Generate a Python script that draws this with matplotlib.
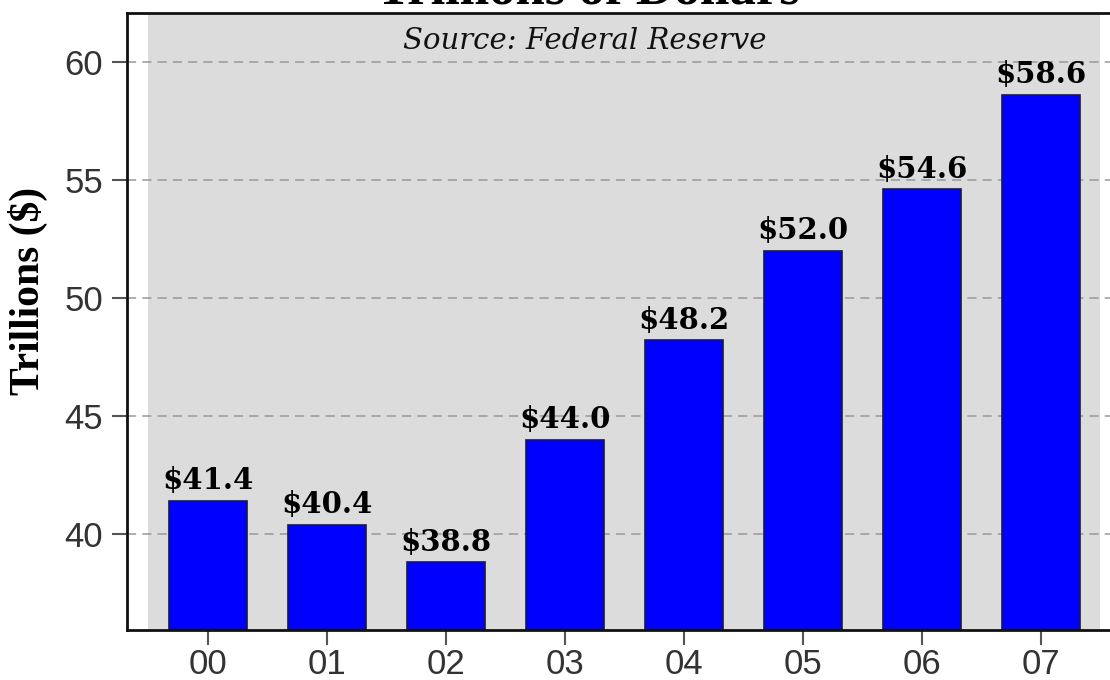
import matplotlib.pyplot as plt

years = ["00", "01", "02", "03", "04", "05", "06", "07"]
debt = [41.4, 40.4, 38.8, 44.0, 48.2, 52.0, 54.6, 58.6]
labels = ["$41.4", "$40.4", "$38.8", "$44.0", "$48.2", "$52.0", "$54.6", "$58.6"]
yticks = [40, 45, 50, 55, 60]

fig = plt.figure(figsize=(11.1, 6.8), dpi=100)
ax = fig.add_axes([0.1144, 0.0735, 0.8856, 0.9075])

x = range(len(years))
ax.axvspan(-0.5, 7.5, color="#dcdcdc", zorder=0, lw=0)
ax.grid(axis="y", linestyle=(0, (6, 4)), color="#999999", linewidth=1.1, zorder=1)
bars = ax.bar(x, debt, width=0.66, color="#0000ff", edgecolor="#1a1a40", linewidth=1.2, zorder=2)

for bar, lab in zip(bars, labels):
    ax.annotate(lab, (bar.get_x() + bar.get_width() / 2, bar.get_height()),
                xytext=(0, 4), textcoords="offset points", ha="center", va="bottom",
                fontsize=21, fontweight="bold", family="DejaVu Serif", zorder=3)

ax.set_xlim(-0.68, 7.58)
ax.set_ylim(35.93, 62.08)
ax.set_xticks(list(x))
ax.set_xticklabels(years, fontsize=25, family="Liberation Sans", color="#333333")
ax.set_yticks(yticks)
ax.set_yticklabels([str(t) for t in yticks], fontsize=25, family="Liberation Sans", color="#333333")
ax.tick_params(axis="both", direction="out", length=11, width=1.5, color="#555555")
ax.tick_params(axis="x", pad=2)
ax.tick_params(axis="y", pad=6)
ax.set_axisbelow(True)

for side in ["left", "bottom", "top"]:
    ax.spines[side].set_linewidth(2)
    ax.spines[side].set_color("#111111")
ax.spines["right"].set_visible(False)

ax.set_ylabel("Trillions ($)", fontsize=30, fontweight="bold", family="Liberation Serif")
ax.yaxis.set_label_coords(-0.08, 0.55)

ax.text(0.466, 0.955, "Source: Federal Reserve", transform=ax.transAxes, ha="center", va="center",
        fontsize=21, style="italic", family="DejaVu Serif", color="#111111")

fig.text(0.53, 0.995, "Trillions of Dollars", ha="center", va="baseline",
         fontsize=38, fontweight="bold", family="Liberation Serif")

fig.savefig("out.png", dpi=100)
